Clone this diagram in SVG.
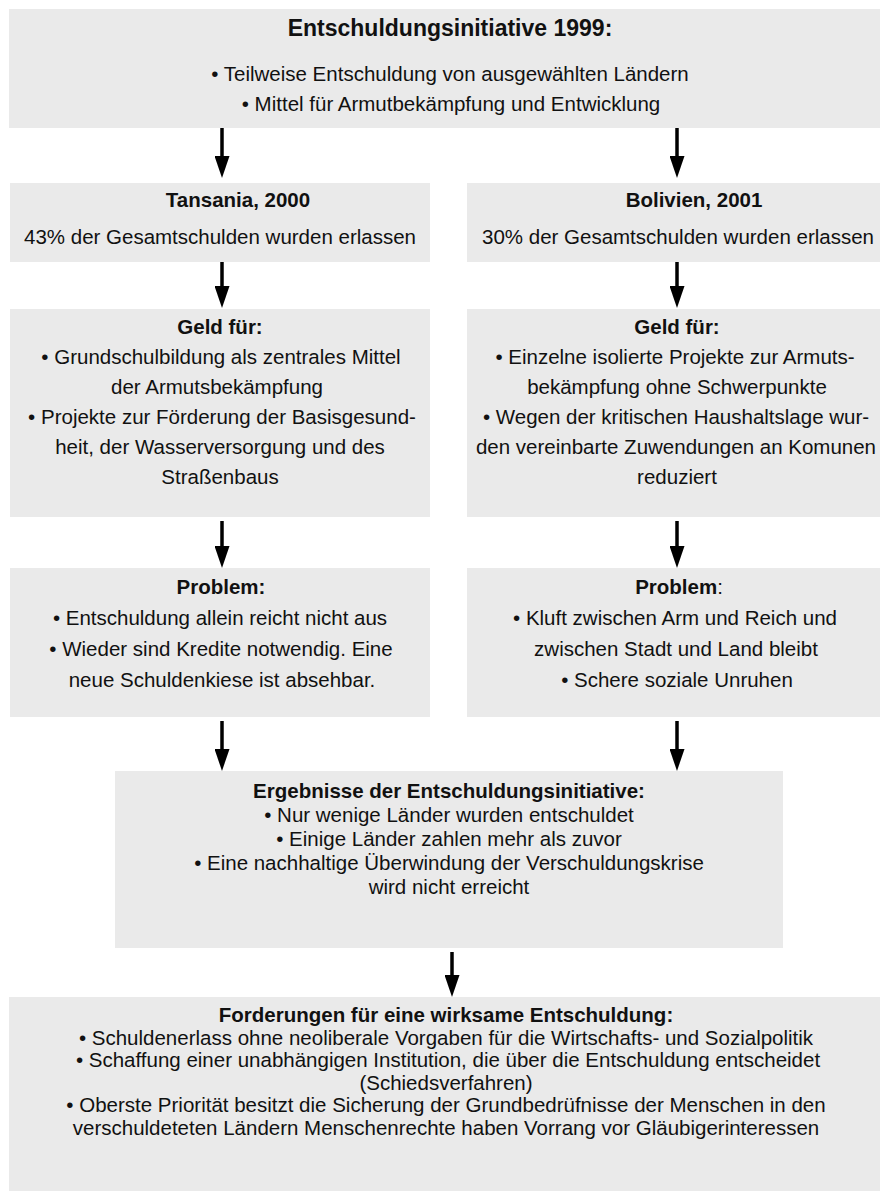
<svg xmlns="http://www.w3.org/2000/svg" width="880" height="1198" viewBox="0 0 880 1198">
<style>
.box{fill:#eaeaea;stroke:none}
text{font-family:"Liberation Sans",Arial,sans-serif;font-size:20.5px;fill:#111;text-anchor:middle}
.b{font-weight:bold}
.big{font-size:23px}
.conn line{stroke:#000;stroke-width:3.5}
</style>
<defs>
<marker id="ah" markerUnits="userSpaceOnUse" markerWidth="22" markerHeight="15" refX="0" refY="7.5" orient="auto">
<path d="M0,0 L22,7.5 L0,15 z" fill="#000"/>
</marker>
</defs>
<rect width="880" height="1198" fill="#fff"/>

<g id="n-top">
<rect class="box" x="9" y="9" width="871" height="119"/>
<text class="b big" x="450" y="36">Entschuldungsinitiative 1999:</text>
<text x="450" y="81">• Teilweise Entschuldung von ausgewählten Ländern</text>
<text x="451" y="111">• Mittel für Armutbekämpfung und Entwicklung</text>
</g>

<g id="n-tansania">
<rect class="box" x="10" y="183" width="420" height="79"/>
<text class="b" x="238" y="207">Tansania, 2000</text>
<text x="220" y="244">43% der Gesamtschulden wurden erlassen</text>
</g>

<g id="n-bolivien">
<rect class="box" x="467" y="183" width="413" height="79"/>
<text class="b" x="694" y="207">Bolivien, 2001</text>
<text x="678" y="244">30% der Gesamtschulden wurden erlassen</text>
</g>

<g id="n-geld-t">
<rect class="box" x="10" y="309" width="420" height="208"/>
<text class="b" x="220" y="334">Geld für:</text>
<text x="221" y="364">• Grundschulbildung als zentrales Mittel</text>
<text x="217" y="394">der Armutsbekämpfung</text>
<text x="222" y="424">• Projekte zur Förderung der Basisgesund-</text>
<text x="220" y="454">heit, der Wasserversorgung und des</text>
<text x="220" y="484">Straßenbaus</text>
</g>

<g id="n-geld-b">
<rect class="box" x="467" y="309" width="413" height="208"/>
<text class="b" x="677" y="334">Geld für:</text>
<text x="675" y="364">• Einzelne isolierte Projekte zur Armuts-</text>
<text x="677" y="394">bekämpfung ohne Schwerpunkte</text>
<text x="676" y="424">• Wegen der kritischen Haushaltslage wur-</text>
<text x="676" y="454">den vereinbarte Zuwendungen an Komunen</text>
<text x="677" y="484">reduziert</text>
</g>

<g id="n-problem-t">
<rect class="box" x="10" y="568" width="420" height="149"/>
<text class="b" x="221" y="594">Problem:</text>
<text x="220" y="625">• Entschuldung allein reicht nicht aus</text>
<text x="221" y="656">• Wieder sind Kredite notwendig. Eine</text>
<text x="222" y="687">neue Schuldenkiese ist absehbar.</text>
</g>

<g id="n-problem-b">
<rect class="box" x="467" y="568" width="413" height="149"/>
<text x="679" y="594"><tspan class="b">Problem</tspan>:</text>
<text x="675" y="625">• Kluft zwischen Arm und Reich und</text>
<text x="676" y="656">zwischen Stadt und Land bleibt</text>
<text x="677" y="687">• Schere soziale Unruhen</text>
</g>

<g id="n-ergebnisse">
<rect class="box" x="115" y="771" width="668" height="177"/>
<text class="b" x="449" y="798">Ergebnisse der Entschuldungsinitiative:</text>
<text x="449" y="822">• Nur wenige Länder wurden entschuldet</text>
<text x="449" y="846">• Einige Länder zahlen mehr als zuvor</text>
<text x="449" y="870">• Eine nachhaltige Überwindung der Verschuldungskrise</text>
<text x="449" y="894">wird nicht erreicht</text>
</g>

<g id="n-forderungen">
<rect class="box" x="9" y="997" width="871" height="194"/>
<text class="b" x="446" y="1022">Forderungen für eine wirksame Entschuldung:</text>
<text x="446" y="1045">• Schuldenerlass ohne neoliberale Vorgaben für die Wirtschafts- und Sozialpolitik</text>
<text x="448" y="1067">• Schaffung einer unabhängigen Institution, die über die Entschuldung entscheidet</text>
<text x="446" y="1090">(Schiedsverfahren)</text>
<text x="446" y="1112">• Oberste Priorität besitzt die Sicherung der Grundbedrüfnisse der Menschen in den</text>
<text x="446" y="1135">verschuldeteten Ländern Menschenrechte haben Vorrang vor Gläubigerinteressen</text>
</g>

<g id="connectors" class="conn">
<line x1="222" y1="128" x2="222" y2="156" marker-end="url(#ah)"/>
<line x1="677" y1="128" x2="677" y2="156" marker-end="url(#ah)"/>
<line x1="222" y1="262" x2="222" y2="286" marker-end="url(#ah)"/>
<line x1="677" y1="262" x2="677" y2="286" marker-end="url(#ah)"/>
<line x1="222" y1="521" x2="222" y2="546" marker-end="url(#ah)"/>
<line x1="677" y1="521" x2="677" y2="546" marker-end="url(#ah)"/>
<line x1="222" y1="721" x2="222" y2="749" marker-end="url(#ah)"/>
<line x1="677" y1="721" x2="677" y2="749" marker-end="url(#ah)"/>
<line x1="452" y1="952" x2="452" y2="975" marker-end="url(#ah)"/>
</g>
</svg>
